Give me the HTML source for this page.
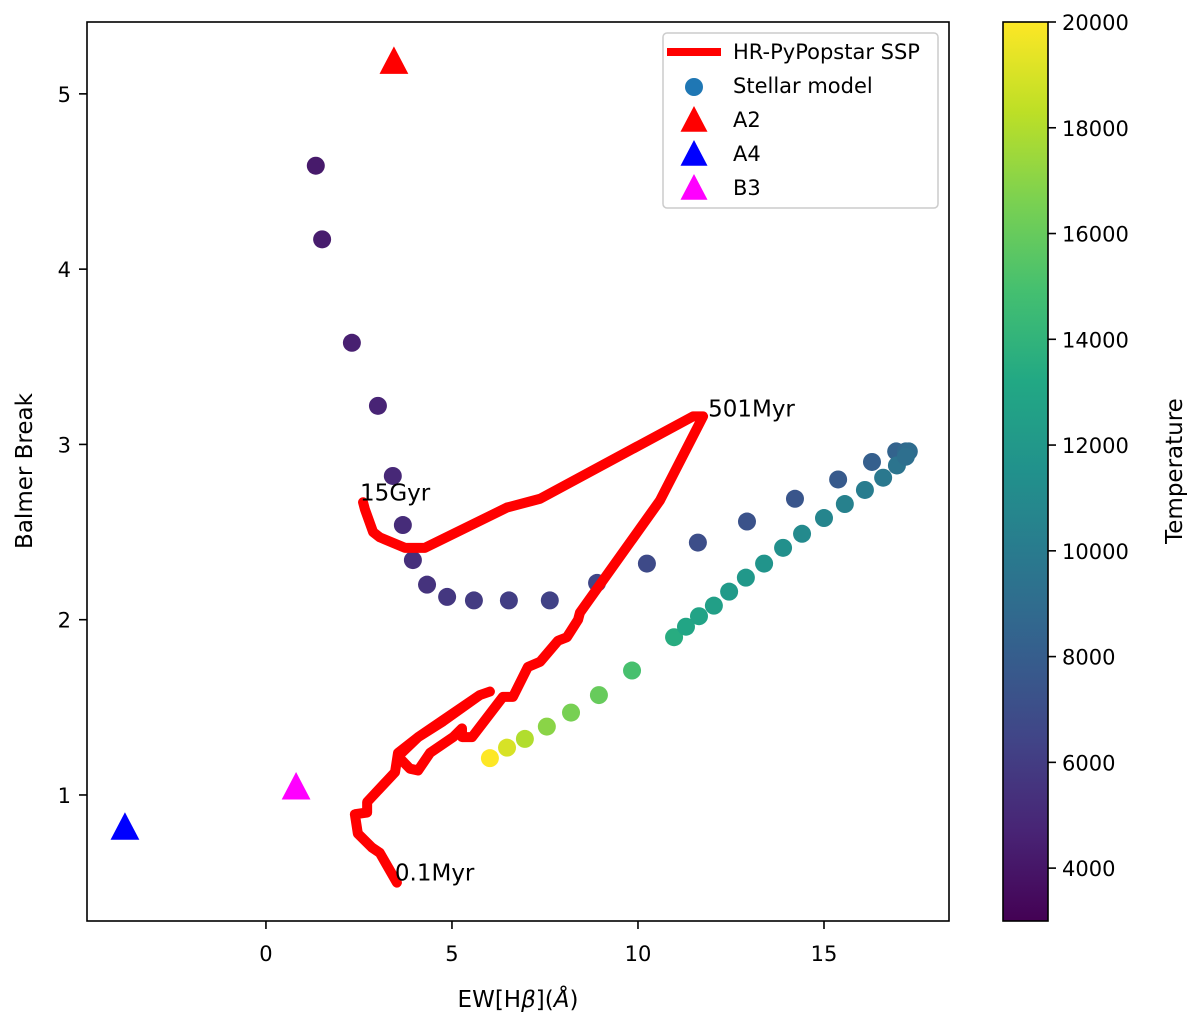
<!DOCTYPE html>
<html><head><meta charset="utf-8"><style>
html,body{margin:0;padding:0;background:#fff;}
svg{display:block;font-family:"DejaVu Sans","Liberation Sans",sans-serif;}
</style></head><body>
<svg id="chart" width="1200" height="1021" viewBox="0 0 1200 1021" xmlns="http://www.w3.org/2000/svg"></svg>
<script>
const xTicks=[0,5,10,15];
const yTicks=[1,2,3,4,5];
const cTicks=[4000,6000,8000,10000,12000,14000,16000,18000,20000];
const sspX=[3.52,3.06,2.85,2.47,2.39,2.72,2.72,3.47,3.55,4.09,4.76,5.75,6.02,5.75,4.09,3.55,3.87,4.09,4.41,5.03,5.27,5.27,5.54,6.37,6.64,7.04,7.37,7.85,8.09,8.39,8.44,10.59,11.75,11.48,7.37,6.48,4.27,3.74,3.06,2.88,2.66,2.61];
const sspY=[0.50,0.67,0.70,0.78,0.89,0.90,0.96,1.13,1.24,1.33,1.42,1.57,1.59,1.57,1.33,1.22,1.15,1.14,1.24,1.33,1.38,1.33,1.33,1.56,1.56,1.73,1.76,1.88,1.90,2.00,2.04,2.68,3.16,3.16,2.69,2.64,2.41,2.41,2.47,2.50,2.63,2.67];
const starX=[1.34,1.51,2.31,3.01,3.41,3.68,3.95,4.33,4.87,5.59,6.53,7.63,8.90,10.24,11.61,12.93,14.22,15.38,16.29,16.94,17.20,17.28,6.02,6.48,6.96,7.55,8.20,8.95,9.84,10.97,11.29,11.64,12.04,12.45,12.90,13.39,13.90,14.41,15.00,15.56,16.10,16.59,16.96,17.20];
const starY=[4.59,4.17,3.58,3.22,2.82,2.54,2.34,2.20,2.13,2.11,2.11,2.11,2.21,2.32,2.44,2.56,2.69,2.80,2.90,2.96,2.96,2.96,1.21,1.27,1.32,1.39,1.47,1.57,1.71,1.90,1.96,2.02,2.08,2.16,2.24,2.32,2.41,2.49,2.58,2.66,2.74,2.81,2.88,2.93];
const starT=[4200,4300,4500,4700,4900,5100,5300,5500,5700,5900,6100,6300,6500,6800,7000,7300,7500,7800,8100,8400,8700,9000,20000,19000,18000,17000,16500,16000,15000,13500,13000,12800,12500,12200,12000,11700,11400,11000,10700,10400,10100,9800,9500,9200];
const triNames=["A2","A4","B3"];
const triX=[3.44,-3.79,0.81];
const triY=[5.18,0.81,1.04];
const triColors=["#ff0000","#0000ff","#ff00ff"];

const NS="http://www.w3.org/2000/svg";
const svg=document.getElementById('chart');
const L=87,R=949,T=22,B=921;
const xmin=-4.81,xmax=18.36,ymin=0.281,ymax=5.41;
const tmin=3000,tmax=20000;
const sx=v=>L+(v-xmin)/(xmax-xmin)*(R-L);
const sy=v=>B-(v-ymin)/(ymax-ymin)*(B-T);
const cy=v=>B-(v-tmin)/(tmax-tmin)*(B-T);
function mk(tag,attrs,parent){const e=document.createElementNS(NS,tag);for(const k in attrs)e.setAttribute(k,attrs[k]);(parent||svg).appendChild(e);return e;}
const vir=[[68,1,84],[72,36,117],[65,68,135],[53,95,141],[42,120,142],[33,145,140],[34,168,132],[68,191,112],[122,209,81],[189,223,38],[253,231,37]];
function viridis(t){t=Math.max(0,Math.min(1,t));const f=t*10,i=Math.min(9,Math.floor(f)),r=f-i;const a=vir[i],b=vir[i+1];return 'rgb('+a.map((c,k)=>Math.round(c+(b[k]-c)*r)).join(',')+')';}

const defs=mk('defs',{});
const grad=mk('linearGradient',{id:'vg',x1:0,y1:1,x2:0,y2:0},defs);
for(let i=0;i<=20;i++){mk('stop',{offset:i/20,'stop-color':viridis(i/20)},grad);}

const sg=mk('g',{});


for(let i=0;i<starX.length;i++){
  const c=mk('circle',{cx:sx(starX[i]),cy:sy(starY[i]),r:9,fill:viridis((starT[i]-tmin)/(tmax-tmin))},sg);
  
  
}
const pl=mk('polyline',{points:sspX.map((x,i)=>sx(x)+','+sy(sspY[i])).join(' '),fill:'none',stroke:'#ff0000','stroke-width':10,'stroke-linejoin':'round','stroke-linecap':'round'});


function tri(x,y,s,col){return mk('polygon',{points:`${x},${y-s} ${x-s*0.9},${y+s*0.72} ${x+s*0.9},${y+s*0.72}`,fill:col});}
for(let i=0;i<triX.length;i++){
  const p=tri(sx(triX[i]),sy(triY[i]),16,triColors[i]);
  
  
}
const ann=[['0.1Myr',0],['15Gyr',sspX.length-1],['501Myr',32]];
const annOff=[[-2,-2],[-3,-2],[5,0]];
ann.forEach((a,k)=>{const t=mk('text',{x:sx(sspX[a[1]])+annOff[k][0],y:sy(sspY[a[1]])+annOff[k][1],'font-size':23,fill:'#000'});t.textContent=a[0];

});

const fr=mk('rect',{x:L,y:T,width:R-L,height:B-T,fill:'none',stroke:'#000','stroke-width':1.6});


xTicks.forEach(v=>{mk('line',{x1:sx(v),x2:sx(v),y1:B,y2:B+8,stroke:'#000','stroke-width':1.6});
 const t=mk('text',{x:sx(v),y:B+40,'text-anchor':'middle','font-size':21});t.textContent=v;
 
 });
yTicks.forEach(v=>{mk('line',{x1:L-8,x2:L,y1:sy(v),y2:sy(v),stroke:'#000','stroke-width':1.6});
 const t=mk('text',{x:L-16,y:sy(v)+8,'text-anchor':'end','font-size':21});t.textContent=v;
 
 });
let xt=mk('text',{x:518,y:1007,'text-anchor':'middle','font-size':23});
xt.innerHTML='EW[H<tspan font-style="italic">β</tspan>](<tspan font-style="italic">Å</tspan>)';


let yt=mk('text',{x:32,y:471,'text-anchor':'middle','font-size':23,transform:'rotate(-90 32 471)'});
yt.textContent='Balmer Break';



const cb=mk('rect',{x:1003,y:T,width:45,height:B-T,fill:'url(#vg)',stroke:'#000','stroke-width':1.6});


cTicks.forEach(v=>{mk('line',{x1:1048,x2:1056,y1:cy(v),y2:cy(v),stroke:'#000','stroke-width':1.6});
 const t=mk('text',{x:1062,y:cy(v)+8,'font-size':21});t.textContent=v;
 
 });
let ct=mk('text',{x:1182,y:471,'text-anchor':'middle','font-size':23,transform:'rotate(-90 1182 471)'});
ct.textContent='Temperature';



const lg=mk('g',{});


mk('rect',{x:663,y:33,width:275,height:175,rx:4,fill:'#fff','fill-opacity':0.8,stroke:'#ccc','stroke-width':1.5},lg);
mk('line',{x1:667,x2:721,y1:52,y2:52,stroke:'#ff0000','stroke-width':8},lg);
mk('circle',{cx:694,cy:87,r:9,fill:'#1f77b4'},lg);
lg.appendChild(tri(694,121,15,'#ff0000'));
lg.appendChild(tri(694,155,15,'#0000ff'));
lg.appendChild(tri(694,189,15,'#ff00ff'));
const lt=[['HR-PyPopstar SSP',52],['Stellar model',86],['A2',120],['A4',154],['B3',188]];
lt.forEach(r=>{const t=mk('text',{x:733,y:r[1]+7,'font-size':21},lg);t.textContent=r[0];
 
 });
</script>
</body></html>
